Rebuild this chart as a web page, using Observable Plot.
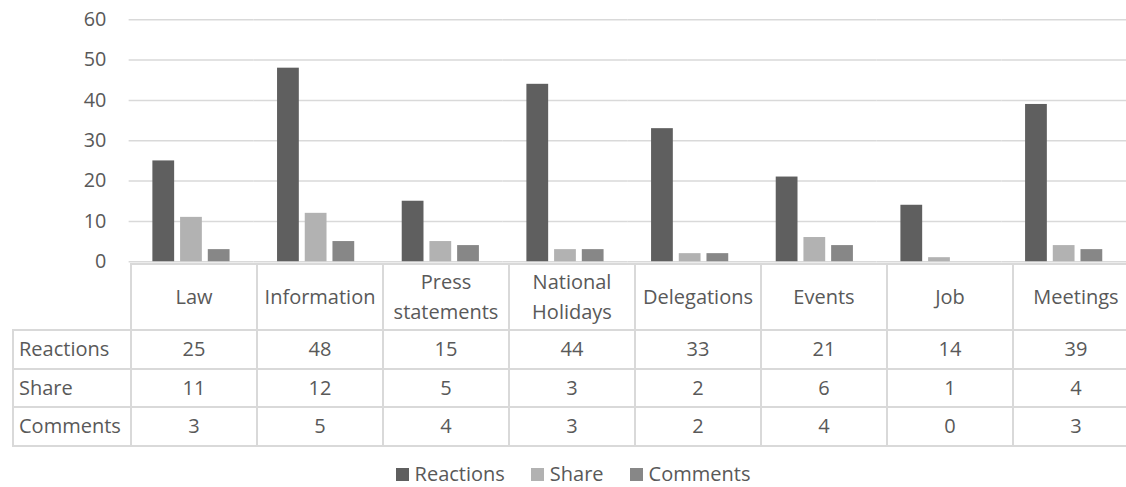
<!DOCTYPE html>
<html>
<head>
<meta charset="utf-8">
<script src="https://cdn.jsdelivr.net/npm/d3@7"></script>
<script src="https://cdn.jsdelivr.net/npm/@observablehq/plot@0.6"></script>
<style>
  html, body { margin: 0; padding: 0; background: #fff; overflow: hidden; }
  #wrap { position: relative; width: 1126px; height: 487px; overflow: hidden;
          font-family: "Open Sans", sans-serif; color: #595959; }
  #chart { position: absolute; left: 0; top: 0; }
  #chart svg { overflow: visible; }
  #table { position: absolute; top: 263px; border-collapse: collapse; table-layout: fixed;
           font-size: 20px; color: #595959; }
  #table td { border: 2px solid #d9d9d9; padding: 0; text-align: center; line-height: 30px; }
  #table td.lab { text-align: left; padding-left: 5px; }
  #table td.blank { border-top: none; border-left: none; }
  #legend { position: absolute; top: 462px; left: 0; width: 1146px; text-align: center;
            font-size: 20px; line-height: 24px; white-space: nowrap; }
  #legend .item { display: inline-block; margin: 0 13px; }
  #legend .sw { display: inline-block; width: 13px; height: 13px; margin-right: 6px; vertical-align: baseline; }
</style>
</head>
<body>
<div id="wrap">
  <div id="chart"></div>
</div>
<script>
// Categories of posts and engagement counts per series
const categories = ["Law", "Information", "Press statements", "National Holidays", "Delegations", "Events", "Job", "Meetings"];
const seriesNames = ["Reactions", "Share", "Comments"];
const reactions = [25, 48, 15, 44, 33, 21, 14, 39];
const share = [11, 12, 5, 3, 2, 6, 1, 4];
const comments = [3, 5, 4, 3, 2, 4, 0, 3];
const yTicks = [0, 10, 20, 30, 40, 50, 60];
const colors = ["#5f5f5f", "#b2b2b2", "#878787"];

const seriesValues = [reactions, share, comments];
const rows = [];
categories.forEach((c, i) => {
  seriesNames.forEach((s, j) => rows.push({category: c, series: s, value: seriesValues[j][i]}));
});

const chart = Plot.plot({
  width: 1138,
  height: 280,
  marginLeft: 130,
  marginRight: 0,
  marginTop: 19.5,
  marginBottom: 16,
  style: {fontFamily: "Open Sans, sans-serif", fontSize: "20px", color: "#595959", background: "transparent", overflow: "visible"},
  fx: {domain: categories, padding: 0, round: false, axis: null, label: null},
  x: {domain: seriesNames, paddingInner: 6 / 28, paddingOuter: 24 / 28, round: false, axis: null},
  y: {domain: [0, 60], ticks: yTicks, label: null},
  color: {domain: seriesNames, range: colors},
  marks: [
    Plot.ruleY(yTicks, {stroke: "#d9d9d9", strokeWidth: 1.5}),
    Plot.barY(rows, {fx: "category", x: "series", y: "value", fill: "series"}),
    Plot.axisY(yTicks, {tickSize: 0, tickPadding: 23, fontSize: 20, label: null})
  ]
});
document.getElementById("chart").appendChild(chart);

// Data table below the bars, aligned with the category bands
const fx = chart.scale("fx");
const bw = fx.bandwidth;
const tableLeft = 12;
const firstLeft = fx.apply(categories[0]);

const table = document.createElement("table");
table.id = "table";
table.style.left = tableLeft + "px";
const colgroup = document.createElement("colgroup");
const c0 = document.createElement("col");
c0.style.width = (firstLeft - tableLeft) + "px";
colgroup.appendChild(c0);
categories.forEach(() => {
  const col = document.createElement("col");
  col.style.width = bw + "px";
  colgroup.appendChild(col);
});
table.appendChild(colgroup);
table.style.width = (firstLeft - tableLeft + bw * categories.length) + "px";

const head = document.createElement("tr");
head.style.height = "66px";
const blank = document.createElement("td");
blank.className = "blank";
head.appendChild(blank);
categories.forEach(c => {
  const td = document.createElement("td");
  td.textContent = c;
  head.appendChild(td);
});
table.appendChild(head);

seriesNames.forEach((s, j) => {
  const tr = document.createElement("tr");
  tr.style.height = "38.5px";
  const lab = document.createElement("td");
  lab.className = "lab";
  lab.textContent = s;
  tr.appendChild(lab);
  seriesValues[j].forEach(v => {
    const td = document.createElement("td");
    td.textContent = v;
    tr.appendChild(td);
  });
  table.appendChild(tr);
});
document.getElementById("wrap").appendChild(table);

// Legend
const legend = document.createElement("div");
legend.id = "legend";
seriesNames.forEach((s, j) => {
  const item = document.createElement("span");
  item.className = "item";
  const sw = document.createElement("span");
  sw.className = "sw";
  sw.style.background = colors[j];
  item.appendChild(sw);
  item.appendChild(document.createTextNode(s));
  legend.appendChild(item);
});
document.getElementById("wrap").appendChild(legend);
</script>
</body>
</html>
